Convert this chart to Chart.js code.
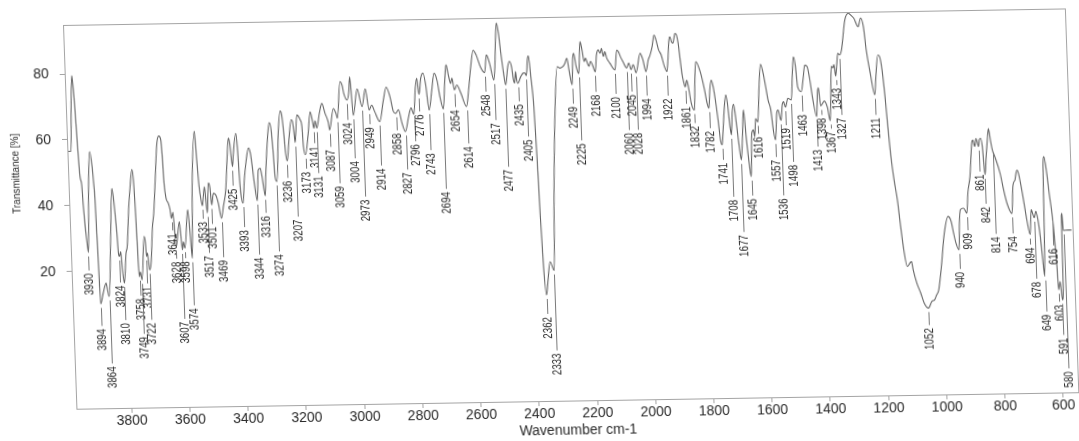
<!DOCTYPE html>
<html>
<head>
<meta charset="utf-8">
<title>IR spectrum</title>
<script src="https://cdn.jsdelivr.net/npm/chart.js@4.4.0/dist/chart.umd.min.js"></script>
<style>
    html, body { margin: 0; padding: 0; background: #ffffff; overflow: hidden; }
    body { width: 1079px; height: 441px; position: relative; }
    /* the scanned sheet sits slightly skewed, so the canvas is skewed the same way */
    #spectrum {
        position: absolute;
        left: 0;
        top: 0;
        transform-origin: 63px 25px;
        transform: matrix(1, -0.0165, 0.035, 1, 0, 0);
    }
</style>
</head>
<body>
<canvas id="spectrum" width="1090" height="460"></canvas>
<script>
// ============================================
// FTIR spectrum - Transmittance vs wavenumber
// ============================================

const wavenumbers = [
    3990, 3978, 3972, 3966, 3962, 3959, 3955, 3950, 3945, 3942,
    3938, 3934, 3930, 3922, 3914, 3907, 3904, 3901, 3899, 3897,
    3894, 3884, 3873, 3868, 3864, 3852, 3842, 3838, 3834, 3830,
    3827, 3824, 3819, 3815, 3810, 3801, 3796, 3786, 3779, 3771,
    3767, 3764, 3762, 3760, 3758, 3754, 3749, 3737, 3733, 3731,
    3727, 3722, 3716, 3707, 3701, 3692, 3682, 3675, 3668, 3665,
    3662, 3657, 3650, 3645, 3641, 3635, 3628, 3614, 3607, 3603,
    3598, 3584, 3578, 3574, 3566, 3552, 3547, 3542, 3537, 3533,
    3524, 3517, 3510, 3505, 3501, 3494, 3486, 3478, 3469, 3461,
    3451, 3443, 3436, 3432, 3425, 3421, 3410, 3406, 3403, 3400,
    3393, 3386, 3378, 3368, 3362, 3357, 3352, 3344, 3337, 3330,
    3325, 3316, 3312, 3302, 3294, 3288, 3284, 3280, 3274, 3264,
    3255, 3250, 3245, 3241, 3236, 3228, 3218, 3214, 3210, 3207,
    3198, 3187, 3182, 3179, 3173, 3161, 3152, 3145, 3141, 3136,
    3131, 3120, 3111, 3101, 3091, 3087, 3072, 3063, 3059, 3046,
    3039, 3034, 3024, 3017, 3012, 3004, 2988, 2973, 2960, 2949,
    2940, 2930, 2914, 2899, 2888, 2876, 2866, 2858, 2848, 2838,
    2827, 2815, 2805, 2796, 2788, 2782, 2776, 2768, 2760, 2752,
    2743, 2732, 2722, 2712, 2704, 2694, 2686, 2680, 2672, 2666,
    2661, 2654, 2645, 2632, 2614, 2605, 2595, 2585, 2575, 2562,
    2548, 2540, 2530, 2517, 2512, 2507, 2502, 2496, 2490, 2483,
    2477, 2468, 2462, 2455, 2450, 2446, 2442, 2439, 2435, 2425,
    2415, 2410, 2405, 2400, 2396, 2390, 2383, 2378, 2374, 2369,
    2362, 2355, 2346, 2333, 2325, 2312, 2298, 2289, 2278, 2272,
    2264, 2258, 2249, 2244, 2240, 2233, 2225, 2222, 2217, 2211,
    2205, 2200, 2194, 2189, 2183, 2177, 2168, 2162, 2155, 2149,
    2144, 2138, 2133, 2127, 2117, 2100, 2092, 2086, 2080, 2072,
    2060, 2052, 2045, 2037, 2028, 2012, 2003, 1994, 1985, 1978,
    1970, 1962, 1956, 1948, 1940, 1930, 1922, 1917, 1912, 1908,
    1903, 1898, 1890, 1885, 1880, 1875, 1870, 1866, 1861, 1855,
    1850, 1842, 1832, 1827, 1822, 1808, 1795, 1788, 1782, 1777,
    1771, 1765, 1759, 1752, 1746, 1741, 1735, 1730, 1723, 1718,
    1712, 1708, 1703, 1697, 1690, 1683, 1677, 1670, 1664, 1657,
    1650, 1645, 1638, 1632, 1628, 1623, 1616, 1608, 1600, 1592,
    1585, 1578, 1570, 1563, 1557, 1550, 1545, 1536, 1530, 1525,
    1519, 1510, 1498, 1492, 1486, 1480, 1475, 1463, 1455, 1448,
    1440, 1433, 1425, 1413, 1408, 1404, 1398, 1385, 1375, 1367,
    1362, 1357, 1352, 1348, 1343, 1338, 1333, 1327, 1320, 1305,
    1292, 1285, 1274, 1260, 1251, 1242, 1235, 1224, 1211, 1205,
    1196, 1190, 1183, 1176, 1170, 1163, 1155, 1146, 1138, 1130,
    1120, 1111, 1105, 1100, 1089, 1077, 1066, 1052, 1040, 1030,
    1023, 1015, 1003, 989, 974, 964, 957, 950, 940, 936,
    931, 920, 909, 903, 894, 884, 880, 874, 869, 861,
    858, 853, 848, 842, 836, 830, 825, 819, 814, 806,
    790, 780, 770, 754, 748, 744, 740, 736, 732, 727,
    722, 716, 710, 704, 694, 688, 684, 678, 672, 666,
    660, 655, 649, 645, 642, 638, 630, 624, 616, 610,
    606, 603, 597, 591, 587, 585, 583, 580, 565, 552
];

const transmittance = [
    56.5, 56.5, 70, 79.5, 75, 69, 59, 49, 46.3, 40,
    33.6, 29.3, 25.7, 45, 56.3, 51.7, 47.2, 41.6, 31.5, 22.4,
    10.0, 13.3, 16.3, 13.8, 12.2, 30, 45.0, 42.5, 37.5, 31.4,
    25.3, 24.3, 25.8, 20, 16.2, 25.3, 27.3, 39.4, 45.5, 50.7,
    47.5, 39.4, 31.4, 22.2, 18.1, 19.5, 17.1, 30.3, 28.3, 24.2,
    25.2, 20.1, 22.1, 33.2, 37.3, 47.4, 58.5, 60.7, 59.5, 54.4,
    46.4, 41.8, 40.3, 38.5, 35.6, 37.5, 27.0, 34.6, 26.0, 28.5,
    26.5, 38.2, 30, 23.4, 45, 62, 53.2, 45.1, 41.1, 39.3,
    45.1, 37.1, 46.2, 44.7, 39.5, 43.0, 42.5, 40.0, 35.4, 39.0,
    44.0, 53.1, 59.7, 58.2, 51.0, 54.6, 61.1, 57.1, 49.0, 43.4,
    39.9, 47.0, 52.4, 56.6, 55.0, 50.9, 45.9, 40.6, 49.9, 50.4,
    48, 42, 48, 59.0, 64.2, 61.9, 55.9, 47.8, 46.3, 61.0,
    67.7, 66.5, 61.0, 54.9, 52.5, 58.9, 65.0, 64.5, 61.4, 58.0,
    66.4, 64.9, 63.0, 56.8, 54.3, 60.8, 67.3, 64.5, 62.3, 64.5,
    62.3, 67, 69.8, 66.8, 64.1, 61.7, 68.2, 66.6, 65.2, 76.3,
    75.2, 72.6, 70.7, 73.0, 77.7, 66, 74, 68.6, 74, 67.5,
    69, 67, 64, 70.5, 74.4, 71.5, 67, 66.4, 67.5, 63.5,
    60.8, 65, 68, 66, 74, 77, 72, 77, 78.5, 75,
    67.2, 73, 78.4, 76, 71, 67.5, 76, 80.9, 77.3, 75.2,
    76.8, 73.2, 74.7, 72.2, 68.1, 73.2, 80.2, 85.2, 83.7, 80.1,
    78.3, 83.7, 81.1, 76.0, 80.1, 88.2, 93.4, 90.2, 84.1, 78.0,
    74.5, 80, 81.6, 80, 76, 75, 78.5, 76, 74.9, 76.8,
    78, 78, 77.2, 82, 83.2, 77, 67.7, 51.5, 34.3, 19.1,
    10.5, 15.1, 20.6, 17.9, 39.3, 64.6, 79.8, 79.3, 79.8, 80.6,
    82.3, 78.7, 74.2, 82.2, 83.7, 79.7, 77.6, 80.7, 87.3, 84.7,
    81.2, 82.2, 80.7, 79.7, 81.2, 80.2, 78.0, 83.1, 84.6, 83.6,
    85.1, 82.6, 84.1, 82.1, 80.6, 78.5, 84.5, 84.0, 82.5, 81,
    79, 80.5, 78.5, 80, 77.5, 83.4, 81.4, 77.8, 81.3, 82.8,
    85.3, 88.9, 87.4, 84.4, 82.9, 79.3, 77.7, 81.3, 86.8, 88.3,
    86.8, 86.3, 89.3, 88.8, 86.3, 81.2, 76.6, 74.6, 73.0, 75,
    73, 68, 65.9, 75, 80.6, 77.6, 72, 68, 66.4, 71.9,
    74.9, 72.9, 68.8, 62.7, 56.6, 55.2, 60.7, 65.8, 70.4, 67.8,
    60.7, 58.2, 64.8, 67.5, 62, 55, 50.5, 58, 65.7, 56.6,
    49, 45.4, 58.6, 59.6, 57.5, 63, 62, 72, 79.5, 76.8,
    72.8, 68.5, 65.7, 59, 56.4, 64.5, 65.5, 62.3, 67, 68,
    66.3, 69, 68.5, 76, 81.6, 78.6, 72.5, 71.0, 75, 79,
    78.5, 75, 69, 63.3, 70.4, 72, 66.5, 68, 66, 62,
    70, 78.5, 78, 79, 75.5, 79, 82.4, 81.9, 83.4, 92.5,
    94.5, 94, 93, 90.4, 93.0, 90.4, 83.3, 76.2, 69.6, 75.2,
    81.7, 81.2, 77.1, 68.9, 59.9, 50.8, 43.7, 37.6, 29.5, 22.4,
    17.3, 18.3, 18.8, 16.2, 12.2, 9.2, 6.1, 4.6, 6.6, 7.1,
    8.5, 10, 17.1, 27.2, 32.3, 30.8, 27.2, 24.2, 22.1, 30,
    34.3, 34.8, 33.2, 39.5, 44.3, 54.4, 55.4, 53.4, 55.9, 53.4,
    55.4, 55.9, 53.4, 44.8, 50.3, 55.4, 58.8, 55, 52.3, 50.2,
    45.1, 40.1, 36, 32.9, 41, 42.5, 43, 45, 46.1, 45,
    42.5, 38.9, 34.9, 30.9, 26.4, 34.0, 33, 31.5, 33.5, 31,
    26, 20, 13.6, 30, 47, 50, 44.9, 38.8, 31.8, 23.6,
    16.5, 9.5, 12, 6.4, 10, 32, 32.7, 27.5, 27.6, 27.6
];

const xTicks = [3800, 3600, 3400, 3200, 3000, 2800, 2600, 2400, 2200, 2000, 1800, 1600, 1400, 1200, 1000, 800, 600];
const yTicks = [20, 40, 60, 80];

// picked peaks, as printed under the curve
const peakLabels = [
    3930, 3894, 3864, 3824, 3810, 3758, 3749, 3731, 3722, 3641,
    3628, 3607, 3598, 3574, 3533, 3517, 3501, 3469, 3425, 3393,
    3344, 3316, 3274, 3236, 3207, 3173, 3141, 3131, 3087, 3059,
    3024, 3004, 2973, 2949, 2914, 2858, 2827, 2796, 2776, 2743,
    2694, 2654, 2614, 2548, 2517, 2477, 2435, 2405, 2362, 2333,
    2249, 2225, 2168, 2100, 2060, 2045, 2028, 1994, 1922, 1861,
    1832, 1782, 1741, 1708, 1677, 1645, 1616, 1557, 1536, 1519,
    1498, 1463, 1413, 1398, 1367, 1343, 1327, 1211, 1052, 940,
    909, 861, 842, 814, 754, 694, 678, 649, 616, 603,
    591, 580
];

// layout only: how far (px) below each peak its label text ends
const labelDrop = [
    21, 25, 70, 29, 40, 22, 57, 30, 53, 15,
    15, 72, 13, 50, 16, 43, 22, 42, 22, 27,
    57, 20, 73, 20, 77, 17, 18, 48, 20, 68,
    23, 46, 93, 17, 47, 20, 41, 30, 20, 43,
    83, 20, 40, 22, 43, 85, 21, 64, 22, 83,
    22, 70, 23, 27, 65, 25, 60, 27, 27, 20,
    16, 23, 18, 65, 75, 22, 15, 20, 78, 21,
    65, 23, 33, 12, 11, 12, 63, 23, 20, 22,
    20, 28, 32, 87, 23, 13, 64, 38, 32, 15,
    38, 141
];

const LINE_COLOR = '#646464';
const LEADER_COLOR = '#7a7a7a';
const FRAME_COLOR = '#a4a4a4';
const TEXT_COLOR = '#2a2a2a';
const FONT = '"Liberation Sans", Arial, sans-serif';

/**
 * Transmittance at a wavenumber, read from the series (linear between points)
 */
function valueAt(w) {
    for (let i = 0; i < wavenumbers.length - 1; i++) {
        const a = wavenumbers[i], b = wavenumbers[i + 1];
        if (w <= a && w >= b) {
            if (a === b) return transmittance[i];
            const t = (a - w) / (a - b);
            return transmittance[i] + t * (transmittance[i + 1] - transmittance[i]);
        }
    }
    return transmittance[transmittance.length - 1];
}

// frame round the plot + the y title (offset like the original print)
const framePlugin = {
    id: 'frame',
    afterDraw(chart) {
        const { ctx, chartArea: a, scales } = chart;
        ctx.save();
        ctx.strokeStyle = FRAME_COLOR;
        ctx.lineWidth = 1;
        ctx.strokeRect(a.left + 0.5, a.top + 0.5, a.width, a.height);

        const mid = (yTicks[0] + yTicks[yTicks.length - 1]) / 2;
        ctx.translate(11, scales.y.getPixelForValue(mid));
        ctx.rotate(-Math.PI / 2);
        ctx.fillStyle = TEXT_COLOR;
        ctx.font = '10px ' + FONT;
        ctx.textAlign = 'center';
        ctx.textBaseline = 'middle';
        ctx.fillText('Transmittance [%]', 0, 0);
        ctx.restore();
    }
};

// vertical peak labels with their leader lines
const peakPlugin = {
    id: 'peaks',
    afterDatasetsDraw(chart) {
        const { ctx, scales } = chart;
        ctx.save();
        ctx.strokeStyle = LEADER_COLOR;
        ctx.lineWidth = 1;
        ctx.fillStyle = TEXT_COLOR;
        ctx.font = '13px ' + FONT;
        peakLabels.forEach((w, i) => {
            const px = Math.round(scales.x.getPixelForValue(w)) + 0.5;
            const py = scales.y.getPixelForValue(valueAt(w));
            const end = py + labelDrop[i];
            if (end - 3 > py + 4) {
                ctx.beginPath();
                ctx.moveTo(px, py + 4);
                ctx.lineTo(px, end - 3);
                ctx.stroke();
            }
            ctx.save();
            ctx.translate(px, end);
            ctx.rotate(-Math.PI / 2);
            ctx.scale(0.75, 1);
            ctx.textAlign = 'right';
            ctx.textBaseline = 'middle';
            ctx.fillText(String(w), 0, 0);
            ctx.restore();
        });
        ctx.restore();
    }
};

const points = wavenumbers.map((w, i) => ({ x: w, y: transmittance[i] }));

new Chart(document.getElementById('spectrum'), {
    type: 'line',
    data: {
        datasets: [{
            data: points,
            borderColor: LINE_COLOR,
            borderWidth: 1.1,
            pointRadius: 0,
            fill: false,
            cubicInterpolationMode: 'monotone'
        }]
    },
    options: {
        responsive: false,
        animation: false,
        events: [],
        layout: { padding: { top: 25, right: 25, bottom: 12, left: 0 } },
        plugins: {
            legend: { display: false },
            tooltip: { enabled: false }
        },
        scales: {
            x: {
                type: 'linear',
                reverse: true,
                min: 548,
                max: 3990,
                afterBuildTicks: s => { s.ticks = xTicks.map(v => ({ value: v })); },
                afterFit: s => { s.height = 39; },
                grid: { drawOnChartArea: false, tickLength: 5, color: FRAME_COLOR },
                border: { display: false },
                ticks: {
                    padding: 0,
                    maxRotation: 0,
                    autoSkip: false,
                    color: TEXT_COLOR,
                    font: { family: FONT, size: 14 },
                    callback: v => String(v)
                },
                title: {
                    display: true,
                    text: 'Wavenumber cm-1',
                    color: TEXT_COLOR,
                    font: { family: FONT, size: 14 },
                    padding: 0
                }
            },
            y: {
                min: -21.7,
                max: 94.9,
                afterBuildTicks: s => { s.ticks = yTicks.map(v => ({ value: v })); },
                afterFit: s => { s.width = 63; },
                grid: { drawOnChartArea: false, tickLength: 5, color: FRAME_COLOR },
                border: { display: false },
                ticks: {
                    padding: 11,
                    color: TEXT_COLOR,
                    font: { family: FONT, size: 14 },
                    callback: v => String(v)
                }
            }
        }
    },
    plugins: [framePlugin, peakPlugin]
});
</script>
</body>
</html>
